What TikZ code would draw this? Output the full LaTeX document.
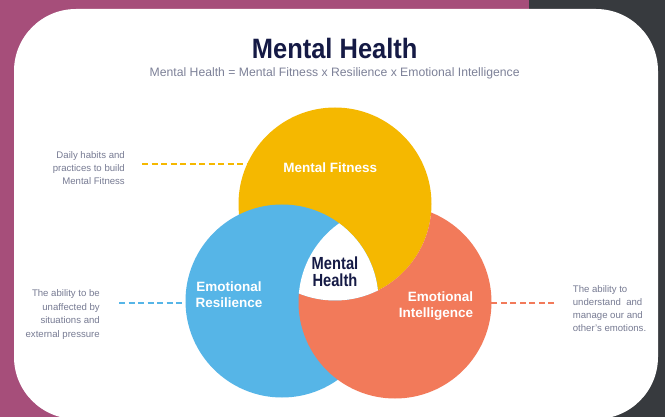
\documentclass[tikz,border=0pt]{standalone}
\usepackage{fontspec}
\setmainfont{Liberation Sans}
\newfontfamily\titlefont[FakeStretch=0.91]{Liberation Sans}
\newfontfamily\centerfont[FakeStretch=0.84]{Liberation Sans}
\definecolor{magbg}{HTML}{A64E7A}
\definecolor{darkbg}{HTML}{373A3E}
\definecolor{ycol}{HTML}{F5B800}
\definecolor{bcol}{HTML}{56B5E7}
\definecolor{ocol}{HTML}{F27A5A}
\definecolor{navy}{HTML}{151A45}
\definecolor{sidegray}{HTML}{777B93}
\definecolor{subgray}{HTML}{7D8198}
\begin{document}
\begin{tikzpicture}[x=1pt,y=-1pt,
  circ/.style={circle, inner sep=0pt, minimum size=193pt},
  lbl/.style={text=white, font=\fontsize{13.5}{16}\selectfont\bfseries, inner sep=0pt},
  sidetext/.style={text=sidegray, inner sep=0pt},
  dashline/.style={line width=1.6pt, dash pattern=on 6pt off 3.5pt}]
\useasboundingbox (0,0) rectangle (665,417);
\clip (0,0) rectangle (665,417);
% background
\fill[magbg] (0,0) rectangle (529,417);
\fill[darkbg] (529,0) rectangle (665,417);
\fill[white, rounded corners=62pt] (14,9) rectangle (658,419);
% titles
\node[anchor=base, inner sep=0pt, text=navy, font=\titlefont\bfseries\fontsize{28}{30}\selectfont] (title) at (334.7,58.3) {Mental Health};
\node[anchor=base, inner sep=0pt, text=subgray, font=\fontsize{12.2}{14}\selectfont] (subtitle) at (334.7,76.7) {Mental Health = Mental Fitness x Resilience x Emotional Intelligence};
% circle nodes (shapes only, filled below)
\node[circ] (Y) at (335,204) {};
\node[circ] (B) at (282,301) {};
\node[circ] (O) at (395,302) {};
% dashed connectors (drawn under the circles)
\coordinate (yd) at (142,164.3);
\coordinate (bd) at (119,303.3);
\coordinate (od) at (554,303.3);
\draw[dashline, ycol] (yd) -- (yd -| Y.center);
\draw[dashline, bcol] (bd) -- (bd -| B.center);
\draw[dashline, ocol] (od) -- (od -| O.center);
% circles: yellow, blue over yellow, orange over blue but under yellow
\fill[ycol] (Y.center) circle (96.5pt);
\fill[bcol] (B.center) circle (96.5pt);
\begin{scope}
  \clip (O.center) circle (96.5pt);
  \fill[ocol, even odd rule] (0,0) rectangle (665,417) (Y.center) circle (96.5pt);
\end{scope}
\begin{scope}
  \clip (Y.center) circle (96.5pt);
  \clip (B.center) circle (96.5pt);
  \fill[white] (O.center) circle (96.5pt);
\end{scope}
% labels
\node[lbl, anchor=base] (mf) at (330.3,172.3) {Mental Fitness};
\node[lbl, anchor=north, align=center] (er) at (229,282) {Emotional\\Resilience};
\node[lbl, anchor=north east, align=right] (ei) at (473.3,292) {Emotional\\Intelligence};
\node[anchor=north, align=center, inner sep=0pt, text=navy, font=\centerfont\bfseries\fontsize{17.5}{16.5}\selectfont] (mh) at (335,257) {Mental\\Health};
% side texts
\node[sidetext, anchor=north east, align=right, font=\fontsize{9.6}{13}\selectfont] (t1) at (125,151.1) {Daily habits and\\practices to build\\Mental Fitness};
\node[sidetext, anchor=north east, align=right, font=\fontsize{9.6}{13.4}\selectfont] (t2) at (100,289.8) {The ability to be\\unaffected by\\situations and\\external pressure};
\node[sidetext, anchor=north west, align=left, font=\fontsize{9.6}{13.2}\selectfont] (t3) at (572.7,285.1) {The ability to\\understand\ \ and\\manage our and\\other's emotions.};
\end{tikzpicture}
\end{document}
